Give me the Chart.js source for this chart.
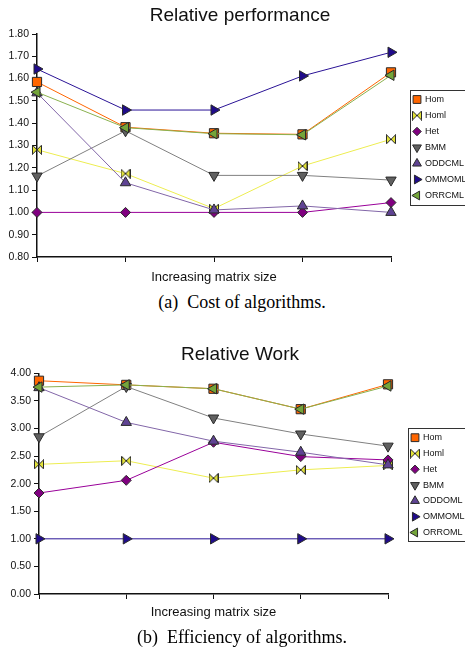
<!DOCTYPE html>
<html>
<head>
<meta charset="utf-8">
<script src="https://cdn.jsdelivr.net/npm/chart.js@4.4.1/dist/chart.umd.min.js"></script>
<style>
  html, body { margin: 0; padding: 0; background: #fff; overflow: hidden; width: 465px; height: 651px; }
  .wrap { position: absolute; left: 0; }
  canvas { display: block; }
  .cap {
    position: absolute; left: 0; width: 484px; text-align: center;
    font-family: "Liberation Serif", "Times New Roman", serif;
    font-size: 18px; line-height: 20px; color: #000; white-space: pre;
  }
</style>
</head>
<body>
<div class="wrap" style="top:0px"><canvas id="cost" width="480" height="290"></canvas></div>
<div class="cap" style="top:292px">(a)  Cost of algorithms.</div>
<div class="wrap" style="top:330px"><canvas id="work" width="480" height="300"></canvas></div>
<div class="cap" style="top:627px">(b)  Efficiency of algorithms.</div>

<script>
// Matrix sizes along the x axis (unlabelled, increasing)
const sizes = ['n1', 'n2', 'n3', 'n4', 'n5'];

// Relative performance (cost) per algorithm
const costNames  = ['Hom', 'Homl', 'Het', 'BMM', 'ODDCML', 'OMMOML', 'ORRCML'];
const costHom    = [1.585, 1.382, 1.355, 1.350, 1.628];
const costHoml   = [1.281, 1.174, 1.017, 1.208, 1.328];
const costHet    = [1.000, 1.000, 1.000, 1.000, 1.044];
const costBMM    = [1.163, 1.366, 1.166, 1.166, 1.145];
const costODD    = [1.536, 1.133, 1.011, 1.029, 1.000];
const costOMM    = [1.643, 1.459, 1.459, 1.612, 1.718];
const costORR    = [1.539, 1.380, 1.353, 1.348, 1.615];
const costTicks  = [0.80, 0.90, 1.00, 1.10, 1.20, 1.30, 1.40, 1.50, 1.60, 1.70, 1.80];

// Relative work (efficiency) per algorithm
const workNames  = ['Hom', 'Homl', 'Het', 'BMM', 'ODDOML', 'OMMOML', 'ORROML'];
const workHom    = [3.865, 3.790, 3.720, 3.350, 3.800];
const workHoml   = [2.350, 2.415, 2.100, 2.250, 2.330];
const workHet    = [1.830, 2.060, 2.750, 2.490, 2.430];
const workBMM    = [2.850, 3.760, 3.190, 2.900, 2.680];
const workODD    = [3.740, 3.110, 2.770, 2.570, 2.340];
const workOMM    = [1.000, 1.000, 1.000, 1.000, 1.000];
const workORR    = [3.750, 3.790, 3.720, 3.350, 3.770];
const workTicks  = [0.00, 0.50, 1.00, 1.50, 2.00, 2.50, 3.00, 3.50, 4.00];

const FONT = '"Liberation Sans", Arial, sans-serif';
const INK = '#111111';
const EDGE = '#2a2a2a';

// Hourglass-on-its-side marker used for the Homl series
function bowtie(fill) {
  const c = document.createElement('canvas');
  c.width = 10; c.height = 10;
  const g = c.getContext('2d');
  g.beginPath();
  g.moveTo(0.5, 0.5);
  g.lineTo(9.5, 9.5);
  g.lineTo(9.5, 0.5);
  g.lineTo(0.5, 9.5);
  g.closePath();
  g.fillStyle = fill; g.fill();
  g.strokeStyle = EDGE; g.lineWidth = 1; g.stroke();
  return c;
}

// Line colour, marker fill, marker shape for each series slot
const looks = [
  { line: '#FF6600', fill: '#FF6600', shape: 'rect',     r: 6.5, rot: 0   },
  { line: '#EDED50', fill: '#E2E23A', shape: null,       r: 5,   rot: 0   },
  { line: '#990099', fill: '#800080', shape: 'rectRot',  r: 5,   rot: 0   },
  { line: '#808080', fill: '#606060', shape: 'triangle', r: 6,   rot: 180 },
  { line: '#8266A8', fill: '#5F4393', shape: 'triangle', r: 6,   rot: 0   },
  { line: '#2A1396', fill: '#1F0B8A', shape: 'triangle', r: 6,   rot: 90  },
  { line: '#8AB14E', fill: '#74A53A', shape: 'triangle', r: 6,   rot: 270 }
];
looks[1].shape = bowtie(looks[1].fill);

// Boxed legend at a fixed spot on the right-hand side
const boxLegend = {
  id: 'boxLegend',
  afterDraw(chart, args, o) {
    const ctx = chart.ctx;
    ctx.save();
    ctx.strokeStyle = '#333'; ctx.lineWidth = 1;
    ctx.strokeRect(o.x + 0.5, o.y + 0.5, o.w, o.h);
    ctx.font = '9px ' + FONT;
    ctx.textBaseline = 'middle';
    ctx.textAlign = 'left';
    chart.data.datasets.forEach((ds, i) => {
      const y = o.y + o.first + i * o.step;
      ctx.fillStyle = ds.pointBackgroundColor;
      ctx.strokeStyle = ds.pointBorderColor;
      ctx.lineWidth = 1;
      Chart.helpers.drawPoint(ctx, {
        pointStyle: ds.pointStyle, rotation: ds.pointRotation,
        radius: ds.pointRadius * 0.85, borderWidth: 1
      }, o.x + 7, y);
      ctx.fillStyle = INK;
      ctx.fillText(ds.label, o.x + 15, y);
    });
    ctx.restore();
  }
};

function makeChart(id, names, series, ticks, cfg) {
  const datasets = series.map((vals, i) => {
    const lk = looks[i];
    return {
      label: names[i],
      data: vals,
      borderColor: lk.line,
      backgroundColor: lk.fill,
      borderWidth: 1,
      pointStyle: lk.shape,
      pointRadius: lk.r,
      pointRotation: lk.rot,
      pointBackgroundColor: lk.fill,
      pointBorderColor: EDGE,
      pointBorderWidth: 1,
      tension: 0,
      clip: false,
      order: -i
    };
  });

  return new Chart(document.getElementById(id), {
    type: 'line',
    data: { labels: sizes, datasets },
    options: {
      responsive: false,
      animation: false,
      events: [],
      layout: { padding: 0 },
      plugins: {
        legend: { display: false },
        tooltip: { enabled: false },
        title: {
          display: true, text: cfg.title, color: INK,
          font: { family: FONT, size: 19, weight: 'normal' },
          padding: { top: cfg.titleTop, bottom: cfg.titleBottom }
        },
        boxLegend: cfg.legend
      },
      scales: {
        x: {
          type: 'category',
          offset: false,
          ticks: { display: false },
          grid: { display: true, drawOnChartArea: false, drawTicks: true, tickLength: 5, color: INK, lineWidth: 1 },
          border: { display: true, color: INK, width: 1.5 },
          title: {
            display: true, text: 'Increasing matrix size', color: INK,
            font: { family: FONT, size: 13, weight: 'normal' },
            padding: { top: cfg.xTitleTop, bottom: cfg.xTitleBottom }
          }
        },
        y: {
          min: ticks[0],
          max: ticks[ticks.length - 1],
          afterBuildTicks: (s) => { s.ticks = ticks.map(v => ({ value: v })); },
          afterFit: (s) => { s.width = cfg.axisLeft; },
          ticks: {
            color: INK, padding: 3,
            font: { family: FONT, size: 10.5 },
            callback: (v) => Number(v).toFixed(2)
          },
          grid: { display: true, drawOnChartArea: false, drawTicks: true, tickLength: 5, color: INK, lineWidth: 1 },
          border: { display: true, color: INK, width: 1.5 }
        },
        // empty right-hand strip that leaves room for the boxed legend
        side: {
          type: 'linear',
          position: 'right',
          display: true,
          ticks: { display: false },
          grid: { display: false },
          border: { display: false },
          afterFit: (s) => { s.width = cfg.sideWidth; }
        }
      }
    },
    plugins: [boxLegend]
  });
}

makeChart('cost', costNames,
  [costHom, costHoml, costHet, costBMM, costODD, costOMM, costORR], costTicks, {
    title: 'Relative performance',
    titleTop: 4, titleBottom: 7.2,
    xTitleTop: 7.2, xTitleBottom: 5.2,
    axisLeft: 37, sideWidth: 89,
    legend: { x: 410, y: 90, w: 90, h: 115, first: 9.5, step: 16 }
  });

makeChart('work', workNames,
  [workHom, workHoml, workHet, workBMM, workODD, workOMM, workORR], workTicks, {
    title: 'Relative Work',
    titleTop: 13.1, titleBottom: 7.4,
    xTitleTop: 5.2, xTitleBottom: 10.2,
    axisLeft: 39, sideWidth: 92,
    legend: { x: 408, y: 98, w: 90, h: 113, first: 9.7, step: 15.8 }
  });
</script>
</body>
</html>
